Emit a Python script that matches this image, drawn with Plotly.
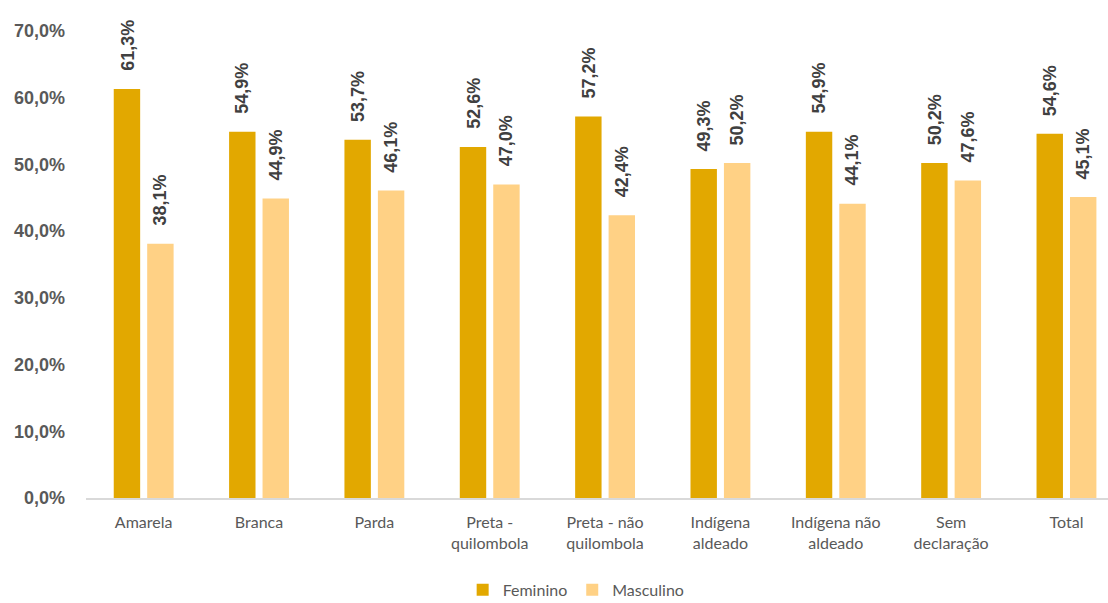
import plotly.graph_objects as go

# Categories and series values (percent)
categorias = [
    "Amarela", "Branca", "Parda", "Preta -<br>quilombola",
    "Preta - não<br>quilombola", "Indígena<br>aldeado",
    "Indígena não<br>aldeado", "Sem<br>declaração", "Total",
]
feminino = [61.3, 54.9, 53.7, 52.6, 57.2, 49.3, 54.9, 50.2, 54.6]
masculino = [38.1, 44.9, 46.1, 47.0, 42.4, 50.2, 44.1, 47.6, 45.1]

tick_vals = [0, 10, 20, 30, 40, 50, 60, 70]
tick_text = ["0,0%", "10,0%", "20,0%", "30,0%", "40,0%", "50,0%", "60,0%", "70,0%"]

COR_FEM = "#E2A800"
COR_MASC = "#FFD185"


def fmt(v):
    return f"{v:.1f}".replace(".", ",") + "%"


fig = go.Figure()
fig.add_trace(go.Bar(name="Feminino", x=categorias, y=feminino,
                     marker=dict(color=COR_FEM, line=dict(width=0))))
fig.add_trace(go.Bar(name="Masculino", x=categorias, y=masculino,
                     marker=dict(color=COR_MASC, line=dict(width=0))))

# Rotated value labels above each bar
annotations = []
for serie, shift in ((feminino, -16.5), (masculino, 16.5)):
    for cat, v in zip(categorias, serie):
        annotations.append(dict(
            x=cat, y=v, xref="x", yref="y", text=fmt(v),
            textangle=-90, showarrow=False, xanchor="center", yanchor="bottom",
            xshift=shift, yshift=16,
            font=dict(family="Liberation Sans", size=18, color="#404040", weight="bold"),
        ))

fig.update_layout(
    width=1108, height=603,
    margin=dict(l=86, r=0, t=31, b=105, autoexpand=False),
    paper_bgcolor="white", plot_bgcolor="white",
    barmode="group", bargap=0.42, bargroupgap=0.21,
    showlegend=True,
    legend=dict(orientation="h", x=0.52, xref="container", xanchor="center",
                y=0.022, yref="container", yanchor="middle",
                font=dict(family="Lato", size=16, color="#595959"),
                itemwidth=30, traceorder="normal"),
    annotations=annotations,
    xaxis=dict(
        range=[-0.5, 8.36], showgrid=False, zeroline=False,
        showline=True, linecolor="#D9D9D9", linewidth=1.5,
        ticks="", ticklabelstandoff=9,
        tickfont=dict(family="Lato", size=16, color="#595959"),
    ),
    yaxis=dict(
        range=[0, 70], tickvals=tick_vals, ticktext=tick_text,
        showgrid=False, zeroline=False, showline=False, ticks="",
        ticklabelstandoff=20,
        tickfont=dict(family="Liberation Sans", size=18, color="#595959", weight="bold"),
    ),
)

fig.write_html("out.html")
